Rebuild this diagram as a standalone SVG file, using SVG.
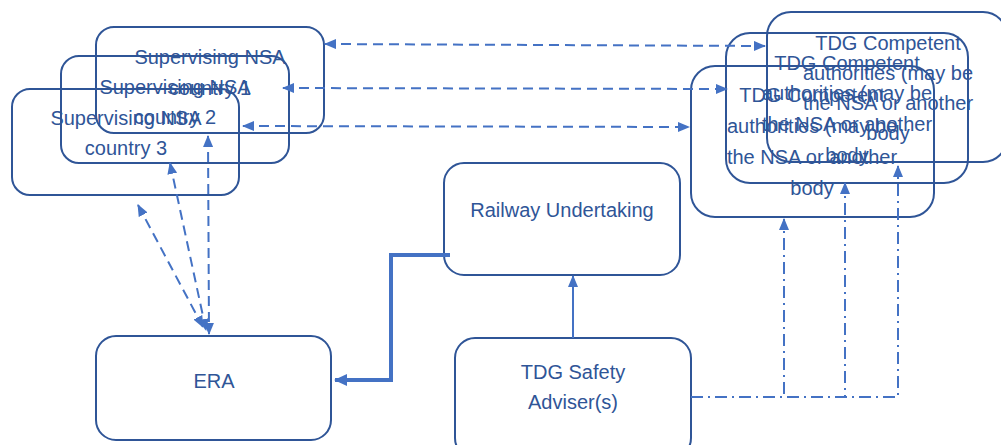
<svg xmlns="http://www.w3.org/2000/svg" width="1001" height="445" viewBox="0 0 1001 445">
<style>
.box{fill:none;stroke:#2F5597;stroke-width:2}
.t{font-family:"Liberation Sans",Arial,sans-serif;font-size:20px;fill:#2F5597;text-anchor:middle}
.c{fill:none;stroke:#4472C4;stroke-width:2}
.dash{stroke-dasharray:10 6}
.dd{stroke-dasharray:12 5 2 5}
.thick{fill:none;stroke:#4472C4;stroke-width:4}
</style>
<defs>
<marker id="ah" viewBox="0 0 12 10" refX="11" refY="5" markerWidth="12" markerHeight="10" markerUnits="userSpaceOnUse" orient="auto-start-reverse">
<path d="M0,0 L12,5 L0,10 z" fill="#4472C4"/>
</marker>
<marker id="ahb" viewBox="0 0 13 12" refX="12" refY="6" markerWidth="13" markerHeight="12" markerUnits="userSpaceOnUse" orient="auto">
<path d="M0,0 L13,6 L0,12 z" fill="#4472C4"/>
</marker>
</defs>
<g id="nsa1"><rect class="box" x="96" y="27" width="228" height="106" rx="18"/><text class="t" x="210" y="64">Supervising NSA</text><text class="t" x="210" y="95">country 1</text></g>
<g id="nsa2"><rect class="box" x="61" y="56" width="228" height="107" rx="18"/><text class="t" x="175" y="94">Supervising NSA</text><text class="t" x="175" y="124">country 2</text></g>
<g id="nsa3"><rect class="box" x="12" y="89" width="227" height="106" rx="18"/><text class="t" x="126" y="125">Supervising NSA</text><text class="t" x="126" y="155">country 3</text></g>
<g id="tdgA"><rect class="box" x="767" y="12" width="240" height="150" rx="24"/><text class="t" x="888" y="50">TDG Competent</text><text class="t" x="888" y="80">authorities (may be</text><text class="t" x="888" y="110">the NSA or another</text><text class="t" x="888" y="140">body</text></g>
<g id="tdgB"><rect class="box" x="726" y="33" width="242" height="150" rx="24"/><text class="t" x="847" y="70">TDG Competent</text><text class="t" x="847" y="100">authorities (may be</text><text class="t" x="847" y="131">the NSA or another</text><text class="t" x="847" y="162">body</text></g>
<g id="tdgC"><rect class="box" x="691" y="66" width="243" height="151" rx="24"/><text class="t" x="812" y="102">TDG Competent</text><text class="t" x="812" y="133">authorities (may be</text><text class="t" x="812" y="164">the NSA or another</text><text class="t" x="812" y="195">body</text></g>
<g id="ru"><rect class="box" x="444" y="163" width="236" height="112" rx="20"/><text class="t" x="562" y="217">Railway Undertaking</text></g>
<g id="safety"><rect class="box" x="455" y="338" width="236" height="120" rx="20"/><text class="t" x="573" y="379">TDG Safety</text><text class="t" x="573" y="409">Adviser(s)</text></g>
<g id="era"><rect class="box" x="96" y="336" width="235" height="104" rx="20"/><text class="t" x="214" y="388">ERA</text></g>
<g id="connectors">
<line class="c dash" x1="325" y1="44" x2="765" y2="46" marker-start="url(#ah)" marker-end="url(#ah)"/>
<line class="c dash" x1="283" y1="88" x2="727" y2="89" marker-start="url(#ah)" marker-end="url(#ah)"/>
<line class="c dash" x1="243" y1="126" x2="689" y2="127" marker-start="url(#ah)" marker-end="url(#ah)"/>
<line class="c dash" x1="138" y1="205" x2="203" y2="327" marker-start="url(#ah)" marker-end="url(#ah)"/>
<line class="c dash" x1="170" y1="163" x2="206" y2="330" marker-start="url(#ah)" marker-end="url(#ah)"/>
<line class="c dash" x1="208" y1="136" x2="209" y2="334" marker-start="url(#ah)" marker-end="url(#ah)"/>
<path class="c dd" d="M691,397 H784 V219" marker-end="url(#ah)"/>
<path class="c dd" d="M691,397 H845 V183" marker-end="url(#ah)"/>
<path class="c dd" d="M691,397 H898 V166" marker-end="url(#ah)"/>
<path class="thick" d="M450,255 H391 V380 H335" marker-end="url(#ahb)"/>
<line class="c" x1="573" y1="338" x2="573" y2="276" marker-end="url(#ah)"/>
</g>
</svg>
